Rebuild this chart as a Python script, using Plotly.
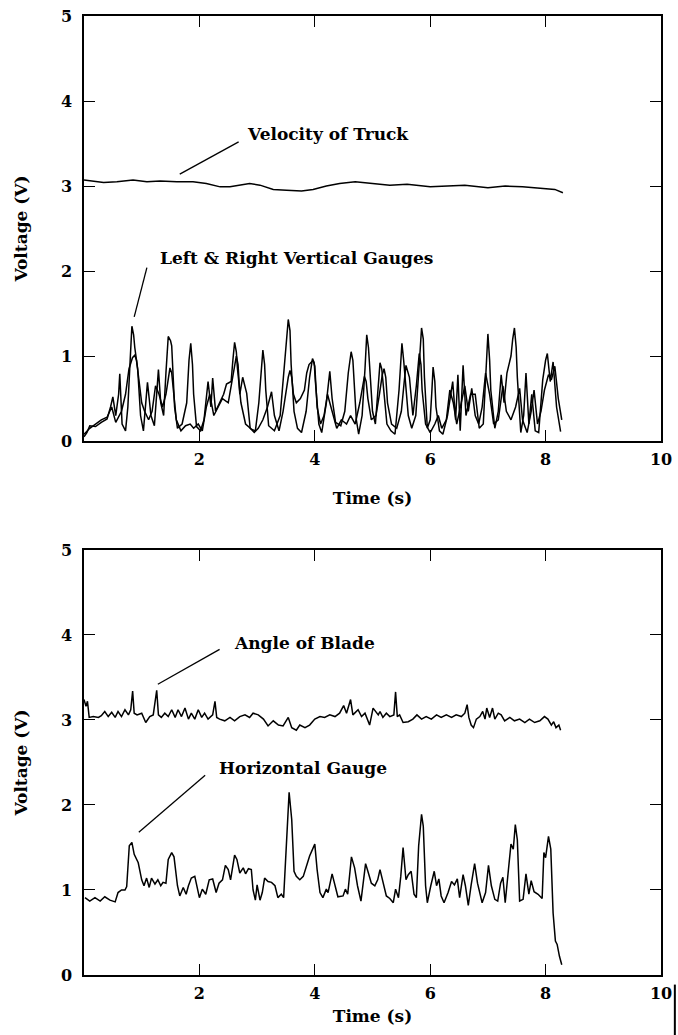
import plotly.graph_objects as go

# --- values ---
# top panel: truck velocity
vel_t = [0.00, 0.22, 0.34, 0.57, 0.85, 1.09, 1.32, 1.61, 1.89, 2.12, 2.36, 2.53, 2.70, 2.87,
         3.05, 3.28, 3.51, 3.77, 3.97, 4.20, 4.43, 4.70, 5.00, 5.30, 5.60, 6.00, 6.30, 6.60,
         7.00, 7.30, 7.60, 8.00, 8.16, 8.30]
vel_v = [3.07, 3.05, 3.04, 3.05, 3.07, 3.05, 3.06, 3.05, 3.05, 3.03, 2.99, 2.99, 3.01, 3.03,
         3.01, 2.96, 2.95, 2.94, 2.96, 3.00, 3.03, 3.05, 3.03, 3.01, 3.02, 2.99, 3.00, 3.01,
         2.98, 3.00, 2.99, 2.97, 2.96, 2.92]

# top panel: left vertical gauge
left_t = [0.00, 0.05, 0.10, 0.20, 0.30, 0.40, 0.46, 0.50, 0.55, 0.60, 0.62, 0.66, 0.72, 0.76,
          0.80, 0.83, 0.86, 0.88, 0.93, 0.98, 1.03, 1.07, 1.10, 1.13, 1.16, 1.22, 1.26, 1.29,
          1.33, 1.38, 1.42, 1.46, 1.50, 1.52, 1.57, 1.62, 1.70, 1.78, 1.82, 1.85, 1.88, 1.90,
          1.95, 2.02, 2.08, 2.15, 2.20, 2.23, 2.28, 2.35, 2.42, 2.47, 2.55, 2.58, 2.61, 2.64,
          2.66, 2.72, 2.80, 2.90, 2.97, 3.03, 3.07, 3.10, 3.13, 3.15, 3.20, 3.30, 3.40, 3.48,
          3.51, 3.54, 3.57, 3.59, 3.64, 3.70, 3.77, 3.85, 3.91, 3.94, 3.96, 3.99, 4.01, 4.07,
          4.12, 4.20, 4.24, 4.26, 4.30, 4.36, 4.45, 4.52, 4.58, 4.61, 4.63, 4.66, 4.68, 4.72,
          4.76, 4.82, 4.87, 4.90, 4.93, 4.95, 5.00, 5.05, 5.10, 5.13, 5.16, 5.18, 5.25, 5.32,
          5.39, 5.46, 5.49, 5.51, 5.54, 5.56, 5.62, 5.68, 5.75, 5.81, 5.85, 5.88, 5.90, 5.95,
          6.00, 6.03, 6.05, 6.08, 6.10, 6.16, 6.22, 6.30, 6.36, 6.39, 6.44, 6.48, 6.52, 6.57,
          6.62, 6.70, 6.78, 6.85, 6.92, 6.97, 7.00, 7.03, 7.05, 7.12, 7.18, 7.23, 7.28, 7.33,
          7.40, 7.43, 7.46, 7.49, 7.51, 7.57, 7.62, 7.66, 7.71, 7.76, 7.82, 7.88, 7.95, 8.00,
          8.03, 8.08, 8.13, 8.19, 8.26]
left_v = [0.05, 0.10, 0.18, 0.17, 0.22, 0.26, 0.40, 0.52, 0.30, 0.55, 0.79, 0.20, 0.12, 0.40,
          0.95, 1.35, 1.25, 1.10, 0.85, 0.30, 0.12, 0.45, 0.69, 0.50, 0.30, 0.18, 0.60, 0.84,
          0.45, 0.30, 0.80, 1.23, 1.18, 1.12, 0.40, 0.15, 0.20, 0.45, 0.95, 1.15, 0.90, 0.55,
          0.17, 0.12, 0.25, 0.70, 0.40, 0.74, 0.35, 0.45, 0.55, 0.67, 0.70, 0.95, 1.16, 1.05,
          0.85, 0.45, 0.20, 0.14, 0.12, 0.45, 0.85, 1.07, 0.90, 0.60, 0.18, 0.12, 0.30, 0.90,
          1.20, 1.43, 1.30, 0.90, 0.35, 0.15, 0.10, 0.35, 0.75, 0.90, 0.97, 0.92, 0.70, 0.20,
          0.10, 0.45, 0.70, 0.82, 0.50, 0.22, 0.18, 0.35, 0.80, 0.98, 1.05, 0.95, 0.75, 0.25,
          0.08, 0.30, 0.85, 1.25, 1.10, 0.85, 0.35, 0.20, 0.60, 0.92, 0.85, 0.70, 0.20, 0.12,
          0.08, 0.60, 0.95, 1.15, 0.95, 0.80, 0.30, 0.15, 0.30, 0.90, 1.33, 1.20, 0.75, 0.15,
          0.25, 0.60, 0.87, 0.70, 0.40, 0.12, 0.08, 0.30, 0.55, 0.70, 0.25, 0.78, 0.12, 0.89,
          0.30, 0.55, 0.55, 0.15, 0.20, 0.80, 1.26, 0.95, 0.60, 0.15, 0.35, 0.78, 0.45, 0.80,
          1.00, 1.20, 1.33, 1.10, 0.75, 0.10, 0.30, 0.80, 0.20, 0.55, 0.12, 0.10, 0.72, 0.95,
          1.03, 0.70, 0.93, 0.40, 0.11]

# top panel: right vertical gauge
right_t = [0.00, 0.10, 0.20, 0.30, 0.40, 0.48, 0.55, 0.65, 0.72, 0.78, 0.84, 0.88, 0.91, 0.95,
           1.00, 1.05, 1.12, 1.18, 1.24, 1.30, 1.36, 1.42, 1.46, 1.49, 1.52, 1.55, 1.60, 1.68,
           1.76, 1.84, 1.90, 1.98, 2.05, 2.12, 2.18, 2.25, 2.32, 2.40, 2.50, 2.56, 2.61, 2.64,
           2.67, 2.70, 2.75, 2.82, 2.88, 2.95, 3.02, 3.10, 3.18, 3.25, 3.30, 3.38, 3.45, 3.50,
           3.54, 3.57, 3.60, 3.63, 3.68, 3.75, 3.82, 3.86, 3.90, 3.97, 4.00, 4.04, 4.10, 4.16,
           4.22, 4.30, 4.38, 4.46, 4.55, 4.62, 4.70, 4.78, 4.83, 4.86, 4.89, 4.92, 4.98, 5.06,
           5.12, 5.17, 5.20, 5.23, 5.26, 5.33, 5.42, 5.50, 5.55, 5.58, 5.64, 5.70, 5.76, 5.79,
           5.81, 5.84, 5.86, 5.92, 6.00, 6.08, 6.14, 6.20, 6.28, 6.34, 6.40, 6.46, 6.54, 6.60,
           6.66, 6.72, 6.78, 6.84, 6.90, 6.96, 7.03, 7.10, 7.18, 7.26, 7.32, 7.40, 7.48, 7.55,
           7.60, 7.68, 7.75, 7.80, 7.86, 7.92, 7.98, 8.05, 8.10, 8.16, 8.22, 8.28]
right_v = [0.08, 0.15, 0.20, 0.25, 0.28, 0.40, 0.22, 0.35, 0.55, 0.85, 0.98, 1.01, 0.95, 0.75,
           0.45, 0.35, 0.25, 0.35, 0.65, 0.55, 0.40, 0.55, 0.75, 0.86, 0.80, 0.60, 0.25, 0.12,
           0.18, 0.20, 0.15, 0.20, 0.12, 0.40, 0.55, 0.30, 0.40, 0.50, 0.45, 0.70, 0.92, 1.00,
           0.90, 0.55, 0.75, 0.56, 0.15, 0.10, 0.15, 0.25, 0.40, 0.58, 0.30, 0.12, 0.35, 0.60,
           0.75, 0.83, 0.75, 0.55, 0.45, 0.50, 0.60, 0.80, 0.90, 0.95, 0.88, 0.40, 0.20, 0.30,
           0.55, 0.35, 0.15, 0.25, 0.20, 0.30, 0.20, 0.45, 0.65, 0.76, 0.70, 0.50, 0.25, 0.30,
           0.55, 0.78, 0.85, 0.75, 0.45, 0.20, 0.15, 0.35, 0.70, 0.89, 0.75, 0.30, 0.65, 0.90,
           1.03, 0.90, 0.60, 0.20, 0.10, 0.20, 0.30, 0.15, 0.25, 0.60, 0.45, 0.20, 0.45, 0.65,
           0.35, 0.62, 0.30, 0.20, 0.40, 0.80, 0.55, 0.20, 0.25, 0.65, 0.35, 0.25, 0.40, 0.62,
           0.25, 0.10, 0.35, 0.60, 0.20, 0.35, 0.60, 0.78, 0.72, 0.88, 0.50, 0.25]

# bottom panel: blade angle
blade_t = [0.00, 0.035, 0.06, 0.09, 0.16, 0.25, 0.30, 0.36, 0.42, 0.48, 0.54, 0.59, 0.65, 0.71,
           0.77, 0.81, 0.843, 0.87, 0.92, 1.00, 1.07, 1.14, 1.20, 1.26, 1.29, 1.34, 1.40, 1.46,
           1.52, 1.58, 1.63, 1.69, 1.75, 1.81, 1.86, 1.92, 1.98, 2.04, 2.09, 2.15, 2.23, 2.27,
           2.30, 2.35, 2.44, 2.53, 2.61, 2.70, 2.79, 2.87, 2.93, 3.02, 3.11, 3.19, 3.28, 3.37,
           3.45, 3.54, 3.60, 3.68, 3.74, 3.83, 3.91, 4.00, 4.09, 4.17, 4.26, 4.35, 4.43, 4.50,
           4.55, 4.62, 4.66, 4.75, 4.81, 4.87, 4.95, 5.01, 5.10, 5.13, 5.18, 5.24, 5.30, 5.37,
           5.40, 5.43, 5.47, 5.53, 5.62, 5.70, 5.77, 5.85, 5.93, 6.02, 6.11, 6.19, 6.28, 6.37,
           6.45, 6.54, 6.60, 6.64, 6.67, 6.71, 6.75, 6.80, 6.86, 6.91, 6.95, 6.98, 7.03, 7.08,
           7.12, 7.18, 7.23, 7.29, 7.38, 7.46, 7.55, 7.64, 7.72, 7.81, 7.90, 7.98, 8.04, 8.10,
           8.14, 8.18, 8.23, 8.26]
blade_v = [3.24, 3.16, 3.22, 3.03, 3.04, 3.03, 3.05, 3.10, 3.04, 3.09, 3.03, 3.10, 3.04, 3.12,
           3.06, 3.12, 3.34, 3.08, 3.06, 3.08, 2.97, 3.04, 3.06, 3.35, 3.06, 3.03, 3.08, 3.04,
           3.12, 3.03, 3.12, 3.04, 3.14, 3.01, 3.08, 3.01, 3.12, 3.03, 3.08, 3.01, 3.06, 3.22,
           3.03, 3.01, 2.99, 3.03, 2.99, 3.04, 3.06, 3.03, 3.08, 3.06, 3.01, 2.93, 2.99, 2.94,
           2.93, 3.03, 2.91, 2.88, 2.94, 2.91, 2.94, 3.01, 3.04, 3.03, 3.06, 3.04, 3.08, 3.17,
           3.08, 3.24, 3.06, 3.12, 3.04, 3.08, 2.94, 3.14, 3.06, 3.10, 3.03, 3.08, 3.04, 3.06,
           3.33, 3.04, 3.06, 2.97, 2.98, 3.01, 3.06, 3.01, 3.04, 3.01, 3.06, 3.03, 3.06, 3.03,
           3.06, 3.04, 3.08, 3.18, 3.03, 2.94, 2.91, 3.01, 3.04, 3.10, 3.01, 3.14, 3.03, 3.14,
           3.01, 3.08, 3.06, 2.99, 3.03, 2.99, 3.01, 2.97, 3.01, 2.97, 2.99, 3.04, 3.01, 2.94,
           2.98, 2.91, 2.94, 2.88]

# bottom panel: horizontal gauge
horiz_t = [0.017, 0.10, 0.19, 0.28, 0.36, 0.45, 0.54, 0.59, 0.65, 0.71, 0.74, 0.785, 0.83, 0.87,
           0.94, 1.00, 1.04, 1.085, 1.13, 1.17, 1.23, 1.28, 1.33, 1.37, 1.42, 1.46, 1.52, 1.56,
           1.62, 1.66, 1.72, 1.77, 1.81, 1.86, 1.92, 1.96, 2.00, 2.05, 2.11, 2.17, 2.23, 2.29,
           2.34, 2.40, 2.45, 2.50, 2.54, 2.61, 2.65, 2.70, 2.76, 2.80, 2.85, 2.90, 2.93, 2.97,
           3.00, 3.05, 3.09, 3.13, 3.19, 3.25, 3.31, 3.36, 3.42, 3.46, 3.51, 3.555, 3.60, 3.64,
           3.68, 3.74, 3.80, 3.86, 3.91, 4.00, 4.04, 4.09, 4.14, 4.20, 4.23, 4.30, 4.35, 4.40,
           4.49, 4.53, 4.57, 4.635, 4.69, 4.74, 4.80, 4.88, 4.92, 4.98, 5.04, 5.09, 5.13, 5.18,
           5.24, 5.30, 5.36, 5.40, 5.45, 5.49, 5.53, 5.58, 5.62, 5.67, 5.72, 5.76, 5.80, 5.85,
           5.88, 5.92, 5.95, 6.01, 6.07, 6.11, 6.15, 6.19, 6.24, 6.31, 6.37, 6.42, 6.47, 6.51,
           6.57, 6.61, 6.66, 6.71, 6.77, 6.82, 6.86, 6.90, 6.96, 7.01, 7.06, 7.12, 7.17, 7.22,
           7.26, 7.30, 7.35, 7.40, 7.44, 7.475, 7.51, 7.55, 7.61, 7.66, 7.71, 7.75, 7.80, 7.87,
           7.94, 7.97, 8.00, 8.05, 8.09, 8.13, 8.17, 8.20, 8.24, 8.28]
horiz_v = [0.91, 0.87, 0.91, 0.87, 0.92, 0.88, 0.86, 0.97, 1.00, 1.00, 1.04, 1.52, 1.56, 1.42,
           1.32, 1.12, 1.05, 1.14, 1.03, 1.14, 1.07, 1.12, 1.05, 1.09, 1.08, 1.36, 1.44, 1.39,
           1.05, 0.93, 1.03, 0.95, 1.05, 1.14, 1.16, 1.05, 0.91, 1.01, 0.95, 1.12, 1.13, 0.97,
           1.08, 1.12, 1.29, 1.24, 1.12, 1.41, 1.36, 1.20, 1.26, 1.19, 1.25, 1.24, 1.00, 0.88,
           1.06, 0.88, 0.97, 1.14, 1.10, 1.09, 1.05, 0.91, 0.95, 0.91, 1.52, 2.15, 1.83, 1.22,
           1.16, 1.12, 1.16, 1.29, 1.40, 1.54, 1.24, 0.97, 0.91, 1.01, 0.97, 1.19, 1.05, 0.92,
           0.93, 1.01, 0.95, 1.39, 1.26, 1.05, 0.87, 1.31, 1.22, 1.08, 1.05, 1.12, 1.24, 1.10,
           0.93, 0.90, 0.85, 1.01, 0.91, 1.16, 1.50, 1.12, 1.18, 1.22, 0.95, 0.91, 1.52, 1.89,
           1.75, 1.05, 0.85, 1.05, 1.22, 1.05, 1.13, 0.93, 0.85, 0.97, 1.10, 1.06, 1.13, 0.91,
           1.18, 1.05, 0.82, 1.06, 1.31, 1.08, 0.97, 0.85, 0.97, 1.29, 1.05, 0.89, 0.87, 1.08,
           1.15, 0.85, 1.20, 1.54, 1.48, 1.77, 1.59, 0.87, 0.89, 1.19, 0.95, 1.11, 0.98, 0.95,
           0.90, 1.44, 1.38, 1.63, 1.48, 0.73, 0.40, 0.36, 0.22, 0.12]

x_ticks = [2, 4, 6, 8, 10]
y_ticks = [0, 1, 2, 3, 4, 5]

SERIF = "DejaVu Serif"
line_style = dict(color="black", width=1.5)

fig = go.Figure()
fig.add_trace(go.Scatter(x=vel_t, y=vel_v, mode="lines", line=line_style, xaxis="x", yaxis="y"))
fig.add_trace(go.Scatter(x=left_t, y=left_v, mode="lines", line=line_style, xaxis="x", yaxis="y"))
fig.add_trace(go.Scatter(x=right_t, y=right_v, mode="lines", line=line_style, xaxis="x", yaxis="y"))
fig.add_trace(go.Scatter(x=blade_t, y=blade_v, mode="lines", line=line_style, xaxis="x2", yaxis="y2"))
fig.add_trace(go.Scatter(x=horiz_t, y=horiz_v, mode="lines", line=line_style, xaxis="x2", yaxis="y2"))

title_font = dict(family=SERIF, size=17, color="black", weight="bold")
axis_common = dict(
    showline=True, linecolor="black", linewidth=1.5, mirror="ticks",
    ticks="inside", ticklen=11, tickwidth=1.3, tickcolor="black",
    showgrid=False, zeroline=False, automargin=False,
    tickfont=dict(family=SERIF, size=16, color="black", weight="bold"),
)
x_common = dict(axis_common, range=[0, 10], tickvals=x_ticks, ticktext=[str(v) for v in x_ticks],
                ticklabelstandoff=3)
y_common = dict(axis_common, range=[0, 5], tickvals=y_ticks, ticklabelstandoff=7,
                title=dict(text="Voltage (V)", font=title_font, standoff=29))

fig.update_layout(
    template="none",
    width=678, height=1035,
    margin=dict(l=84, r=17, t=16, b=60),
    paper_bgcolor="white", plot_bgcolor="white",
    showlegend=False,
    xaxis=dict(x_common, domain=[0, 1], anchor="y",
               title=dict(text="Time (s)", font=title_font, standoff=24)),
    yaxis=dict(y_common, domain=[0.5568, 1], anchor="x"),
    xaxis2=dict(x_common, domain=[0, 1], anchor="y2",
                title=dict(text="Time (s)", font=title_font, standoff=8)),
    yaxis2=dict(y_common, domain=[0, 0.4432], anchor="x2"),
)

ann_font = dict(family=SERIF, size=17, color="black", weight="bold")
labels = [
    ("x", "y", "Velocity of Truck", 2.79, 3.61, (1.66, 3.14, 2.68, 3.52)),
    ("x", "y", "Left &amp; Right Vertical Gauges", 1.28, 2.15, (0.87, 1.46, 1.09, 2.04)),
    ("x2", "y2", "Angle of Blade", 2.56, 3.91, (1.28, 3.42, 2.35, 3.83)),
    ("x2", "y2", "Horizontal Gauge", 2.30, 2.43, (0.95, 1.68, 2.10, 2.35)),
]
for xr, yr, text, tx, ty, (x0, y0, x1, y1) in labels:
    fig.add_annotation(x=tx, y=ty, xref=xr, yref=yr, text=text, showarrow=False,
                       xanchor="left", yanchor="middle", font=ann_font)
    fig.add_shape(type="line", xref=xr, yref=yr, x0=x0, y0=y0, x1=x1, y1=y1,
                  line=dict(color="black", width=1.3))

# dark scan mark at the lower right edge of the page
fig.add_shape(type="line", xref="paper", yref="paper", x0=1.024, x1=1.024, y0=-0.010, y1=-0.063,
              line=dict(color="black", width=2))

# page body has a default 8px margin; drop it so the figure sits at the window corner
fig.write_html("out.html", config={"displayModeBar": False},
               post_script="document.body.style.margin='0';")
